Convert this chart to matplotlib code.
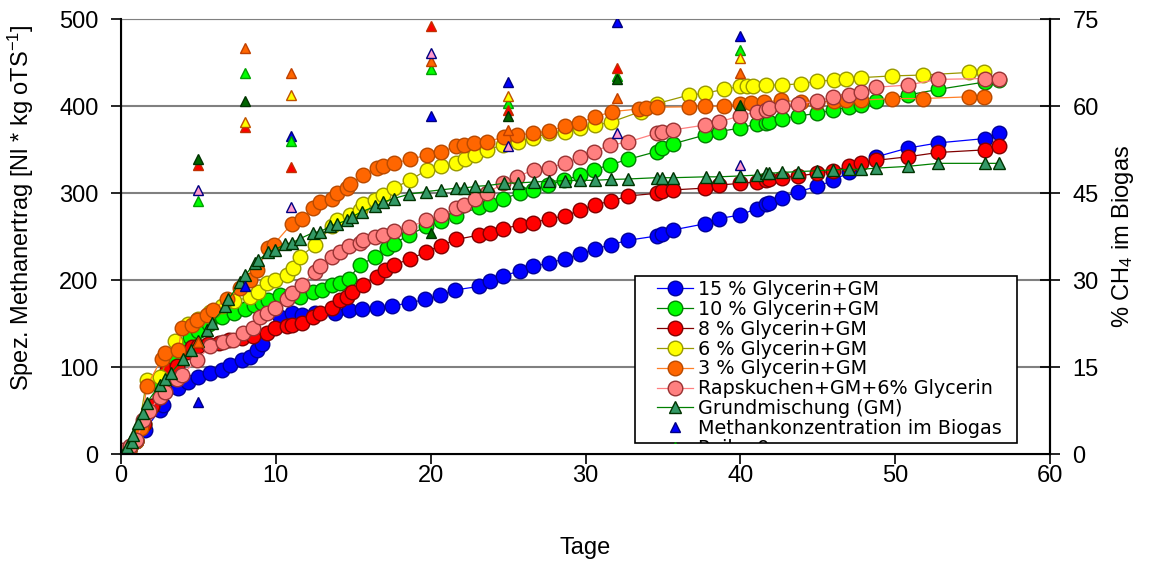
import matplotlib
matplotlib.use("Agg")
import matplotlib.pyplot as plt
import numpy as np
from matplotlib.lines import Line2D
from matplotlib.patches import Rectangle

plt.rcParams["font.family"] = ["Liberation Sans", "DejaVu Sans"]
plt.rcParams["mathtext.fontset"] = "custom"
plt.rcParams["mathtext.rm"] = "Liberation Sans"
plt.rcParams["mathtext.it"] = "Liberation Sans:italic"

# --- yield curves (days, Nl/kg oTS) ---
d15 = [0, 0.5, 1, 1.55, 2.5, 2.7, 3.7, 4.35, 5.0, 5.75, 6.5, 7.05, 7.8, 8.34, 8.77, 9.1, 10.26, 11.03,
       11.68, 12.54, 13.84, 14.7, 15.56, 16.53, 17.5, 18.57, 19.65, 20.62, 21.6, 23.1, 23.8, 24.7, 25.75,
       26.6, 27.66, 28.7, 29.67, 30.58, 31.66, 32.73, 34.58, 34.95, 35.66, 37.7, 38.6, 39.95, 41.07, 41.63,
       41.84, 42.66, 43.74, 44.97, 46.0, 47.0, 48.78, 50.79, 52.77, 55.79, 56.71]
v15 = [0, 5, 15, 28, 51, 57, 76, 83, 89, 93, 97, 103, 108, 112, 120, 127, 158, 162,
       160, 162, 162, 166, 167, 168, 170.5, 174, 178, 183, 189, 193, 199, 205, 211,
       216, 220, 225, 230, 236, 241, 246, 251, 253, 258, 265, 271, 275, 282.5, 288,
       289, 295, 302, 308, 315, 324, 342, 352, 358, 363, 369]

d10 = [0, 0.5, 1, 1.5, 2, 2.6, 3, 3.5, 4, 4.46, 5, 5.7, 6.5, 7.3, 8, 8.6, 9.1, 9.52, 10.28, 10.9,
       11.57, 12.43, 12.97, 13.62, 14.16, 14.7, 15.46, 16.43, 17.18, 17.6, 18.6, 19.7, 20.67, 21.66,
       23.1, 23.8, 24.67, 25.75, 26.6, 27.6, 28.6, 29.67, 30.53, 31.6, 32.73, 34.58, 34.95, 35.66,
       37.7, 38.6, 39.97, 41.09, 41.63, 41.84, 42.66, 43.74, 44.97, 46.0, 47.0, 47.77, 48.78, 50.79,
       52.77, 55.79, 56.71]
v10 = [0, 6, 16, 35, 55, 80, 95, 110, 125, 135, 142, 150, 158, 163, 167, 172, 174, 177, 183, 182,
       181, 187, 189, 195, 197, 202, 218, 227, 237, 242, 252, 262, 268, 274,
       284, 288, 294, 300, 304, 309.5, 315, 321, 327, 333, 339, 348, 352, 357,
       367, 371, 375, 380, 381, 382, 386, 389, 392, 396, 399, 401.5, 406, 413,
       419.5, 428, 430]

d8 = [0, 0.5, 1, 1.5, 2, 2.5, 2.95, 3.6, 4.25, 4.6, 5.0, 5.6, 6.3, 7, 7.8, 8.5, 9.42, 9.95, 10.71,
      11.03, 11.68, 12.43, 12.86, 13.62, 14.16, 14.59, 14.91, 15.66, 16.53, 17.07, 17.6, 18.64, 19.7,
      20.67, 21.66, 23.1, 23.8, 24.67, 25.75, 26.6, 27.66, 28.7, 29.67, 30.58, 31.66, 32.73, 34.58,
      34.95, 35.66, 37.7, 38.6, 39.97, 41.09, 41.63, 41.84, 42.66, 43.74, 44.97, 46.0, 47.0, 47.77,
      48.78, 50.79, 52.77, 55.79, 56.71]
v8 = [0, 5, 15, 35, 55, 66, 97, 101, 118, 123, 125, 127, 128, 131, 134, 136, 139, 145, 147,
      149, 151, 158, 162, 168, 177, 181, 187, 195, 204, 212, 218, 224, 233,
      240, 247, 252, 255, 259, 264, 266, 271, 274, 281, 287, 291, 297, 300,
      303, 304, 306, 309.5, 311.5, 313, 315, 317, 318, 320, 323, 326, 331, 334.5,
      338, 342, 347, 350, 354]

d6 = [0, 0.5, 1, 1.66, 2.52, 3.5, 4.35, 5.0, 5.75, 6.5, 7.3, 8.34, 8.88, 9.42, 9.95, 10.71, 11.14,
      11.57, 12.54, 13.62, 13.94, 14.8, 15.45, 15.66, 16.42, 16.95, 17.6, 18.64, 19.76, 20.67, 21.66,
      22.24, 22.88, 23.64, 24.67, 25.62, 26.6, 27.66, 28.7, 29.67, 30.64, 31.66, 33.55, 34.58, 36.67,
      37.68, 38.93, 39.97, 40.45, 40.83, 41.63, 42.7, 43.88, 44.96, 46.04, 46.8, 47.77, 49.77, 51.76,
      54.77, 55.74]
v6 = [0, 5, 15, 85, 89, 130, 150, 155, 164, 170, 176, 181, 187, 197, 200, 206, 214,
      227, 241, 262, 269, 275, 281, 288, 292, 298, 306, 315, 327, 331, 335,
      340, 344, 350, 355.5, 359, 364, 369, 371, 375, 378.5, 382, 394, 403, 413,
      415, 419.5, 423, 423.3, 423.5, 424.5, 424.5, 426, 429, 430, 431, 433, 435, 436,
      439, 440]

d3 = [0, 0.5, 1, 1.3, 1.66, 2.63, 2.84, 3.7, 3.92, 4.57, 4.89, 5.54, 5.97, 6.83, 7.69, 8.34, 8.77,
      9.52, 9.85, 11.03, 11.68, 12.43, 12.86, 13.62, 13.94, 14.59, 14.8, 15.66, 16.53, 16.95, 17.6,
      18.64, 19.76, 20.67, 21.66, 22.13, 22.78, 23.64, 24.72, 25.58, 26.6, 27.66, 28.7, 29.56, 30.64,
      31.72, 33.44, 33.88, 34.58, 36.67, 37.68, 38.93, 39.94, 40.66, 41.52, 42.6, 43.88, 44.97, 46.04,
      46.8, 47.77, 49.77, 51.76, 54.77, 55.74]
v3 = [0, 5, 15, 30, 78, 110, 116, 120, 145, 149, 154, 160, 166, 179, 191, 200, 212,
      237, 241, 265, 271, 283, 290, 294, 300, 306, 311, 321, 329, 331, 334.5,
      339, 344, 348, 354, 355.5, 357.5, 359, 365, 367, 369, 372, 377, 381, 388,
      394, 397, 398, 399, 399.5, 400, 400.3, 403, 404, 405, 407, 405, 405, 406,
      407, 407, 409, 409, 411, 411]

draps = [0, 0.15, 0.6, 1.0, 1.44, 1.8, 2.52, 2.84, 3.6, 3.92, 4.89, 5.75, 6.6, 7.26, 7.9, 8.55, 8.99,
         9.42, 9.95, 10.71, 11.03, 11.68, 12.54, 12.86, 13.62, 14.16, 14.7, 15.45, 15.66, 16.42, 16.95,
         17.6, 18.6, 19.7, 20.67, 21.66, 22.13, 22.88, 23.64, 24.67, 25.58, 26.65, 27.66, 28.7, 29.67,
         30.53, 31.6, 32.73, 34.58, 34.95, 35.66, 37.7, 38.6, 39.97, 41.09, 41.63, 41.84, 42.66, 43.74,
         44.97, 46.0, 47.0, 47.77, 48.78, 50.79, 52.77, 55.79, 56.71]
vraps = [0, 5, 10, 16, 39, 50, 66, 72, 87, 91, 108, 124, 129, 131, 139, 145, 158,
         162, 168, 179, 185, 195, 210, 216, 227, 233, 239, 242.5, 246, 250, 252,
         257, 261, 269, 275, 283, 287, 294, 300, 311.5, 319, 327, 329, 335, 342,
         348, 355.5, 359, 369, 371, 373, 378.5, 382, 389, 394, 396, 398, 400, 403,
         406, 411, 413, 416, 422, 424.5, 431, 432, 432]

dgm = [0, 0.4, 0.69, 0.8, 1.12, 1.4, 1.66, 2.5, 2.84, 3.2, 4.03, 4.5, 5.0, 5.54, 5.86, 6.73, 6.94,
       7.69, 8.02, 8.66, 8.88, 9.52, 9.95, 10.6, 11.03, 11.57, 12.43, 12.86, 13.5, 13.94, 14.59, 14.91,
       15.56, 16.42, 16.95, 17.6, 18.6, 19.7, 20.67, 21.66, 22.13, 22.88, 23.68, 24.72, 25.62, 26.65,
       27.66, 28.7, 29.67, 30.58, 31.66, 32.73, 34.58, 34.95, 35.66, 37.75, 38.6, 39.97, 41.09, 41.63,
       41.84, 42.66, 43.74, 44.97, 46.0, 47.0, 47.77, 48.78, 50.79, 52.77, 55.79, 56.71]
vgm = [0, 8, 14.5, 22, 36, 48, 59, 80, 87, 93, 110, 120, 130, 143, 151, 170, 178,
       198, 206, 220, 223, 233, 235, 242, 243, 248, 255, 256, 262, 265, 269, 273,
       279, 285, 290, 294, 299, 302, 304, 306, 306, 308, 309, 311.5, 312, 313,
       314, 314.5, 315, 315, 316, 316.5, 318, 318, 318, 319, 319, 320, 321, 323,
       323, 324, 325, 326, 327, 327.6, 327.6, 329, 331, 334.5, 334.5, 334.5]

# --- methane concentration (% CH4), sampled days ---
ch4_days = [5, 8, 11, 20, 25, 32, 40]
ch4_15 = [9.1, 29.0, 54.9, 58.3, 64.2, 74.6, 72.1]
ch4_10 = [43.7, 65.8, 54.1, 66.5, 60.5, 65.2, 69.7]
ch4_8 = [49.9, 56.4, 49.5, 73.8, 59.4, 66.7, np.nan]
ch4_6 = [np.nan, 57.3, 61.9, np.nan, 61.8, np.nan, 68.4]
ch4_3 = [19.4, 70.0, 65.8, 67.9, 55.9, 61.4, 65.8]
ch4_raps = [45.6, np.nan, 42.7, 69.2, 53.2, 55.4, 49.9]
ch4_gm = [51.0, 61.0, np.nan, 38.2, 58.3, 64.8, 60.2]

labels = ["15 % Glycerin+GM", "10 % Glycerin+GM", "8 % Glycerin+GM", "6 % Glycerin+GM",
          "3 % Glycerin+GM", "Rapskuchen+GM+6% Glycerin", "Grundmischung (GM)",
          "Methankonzentration im Biogas", "Reihe 9"]

# style per series: (line colour, face, edge, marker)
styles = [("#0000FF", "#0000FF", "#000099", "o"),
          ("#008000", "#00FF00", "#008000", "o"),
          ("#800000", "#FF0000", "#800000", "o"),
          ("#999900", "#FFFF00", "#999900", "o"),
          ("#FF7F27", "#FF6600", "#B84A00", "o"),
          ("#FF8080", "#FF8080", "#993333", "o"),
          ("#008000", "#339966", "#003300", "^")]
tri_styles = [("#0000FF", "#000080"), ("#00FF00", "#00A000"), ("#FF0000", "#C03000"),
              ("#FFFF00", "#C05000"), ("#FF6600", "#C04000"), ("#FF99CC", "#000080"),
              ("#006600", "#003300")]

series = [(d15, v15), (d10, v10), (d8, v8), (d6, v6), (d3, v3), (draps, vraps), (dgm, vgm)]
ch4 = [ch4_15, ch4_10, ch4_8, ch4_6, ch4_3, ch4_raps, ch4_gm]

FS = 17
MS_O, MS_GM, MS_TRI = 10.5, 8.5, 6.5

fig = plt.figure(figsize=(11.51, 5.63), dpi=100)
ax = fig.add_axes([0.1051, 0.193, 0.8073, 0.7726])

for (d, v), (lc, fc, ec, m) in zip(series, styles):
    ax.plot(d, v, color=lc, lw=0.9, marker=m, ms=MS_O if m == "o" else MS_GM,
            mfc=fc, mec=ec, mew=1.0)

ax.set_xlim(0, 60)
ax.set_ylim(0, 500)
ax.set_xticks(range(0, 61, 10))
ax.set_yticks(range(0, 501, 100))
for yv in range(100, 501, 100):
    ax.axhline(yv, color="#808080", lw=1.5, zorder=0)
ax.tick_params(axis="both", labelsize=FS, length=7, width=1.2, direction="out")
ax.tick_params(axis="y", pad=9)
ax.tick_params(axis="x", pad=1)
ax.spines["top"].set_color("#808080")
for s in ("left", "bottom", "right"):
    ax.spines[s].set_linewidth(1.5)
ax.set_xlabel("Tage", fontsize=FS, labelpad=36)
ax.set_ylabel(r"Spez. Methanertrag [Nl * kg oTS$^{\mathrm{-1}}$]", fontsize=FS)
ax.yaxis.set_label_coords(-0.091, 0.568)

ax2 = ax.twinx()
for vals, (fc, ec) in zip(ch4, tri_styles):
    ax2.plot(ch4_days, vals, ls="none", marker="^", ms=MS_TRI, mfc=fc, mec=ec, mew=1.0)
ax2.set_ylim(0, 75)
ax2.set_yticks(range(0, 76, 15))
ax2.tick_params(axis="y", labelsize=FS, length=14, width=1.2, direction="inout", pad=9)
ax2.spines["top"].set_visible(False)
ax2.spines["right"].set_linewidth(1.5)
ax2.set_ylabel(r"% CH$_{\mathrm{4}}$ im Biogas", fontsize=FS, labelpad=8)

# legend frame drawn by hand so the last entry is cut off like in the original
box = Rectangle((0.5533, 0.026), 0.4112, 0.384, transform=ax2.transAxes,
                facecolor="white", edgecolor="black", lw=1.2, zorder=6)
ax2.add_patch(box)

handles = []
for lc, fc, ec, m in styles:
    handles.append(Line2D([], [], color=lc, lw=0.9, marker=m, ms=MS_O if m == "o" else MS_GM,
                          mfc=fc, mec=ec))
handles.append(Line2D([], [], ls="none", marker="^", ms=MS_TRI, mfc="#0000FF", mec="#000080"))
handles.append(Line2D([], [], ls="none", marker="^", ms=MS_TRI, mfc="#00FF00", mec="#00A000"))
leg = ax2.legend(handles, labels, loc="upper left", bbox_to_anchor=(0.577, 0.401),
                 prop={"family": "DejaVu Sans", "size": 13.8}, frameon=False,
                 borderpad=0, labelspacing=0.045, handlelength=1.85, handletextpad=0.3,
                 borderaxespad=0)
leg.set_zorder(7)
leg.get_texts()[-1].set_clip_path(box)
leg.legend_handles[-1].set_clip_path(box)

fig.savefig("out.png", dpi=100)
